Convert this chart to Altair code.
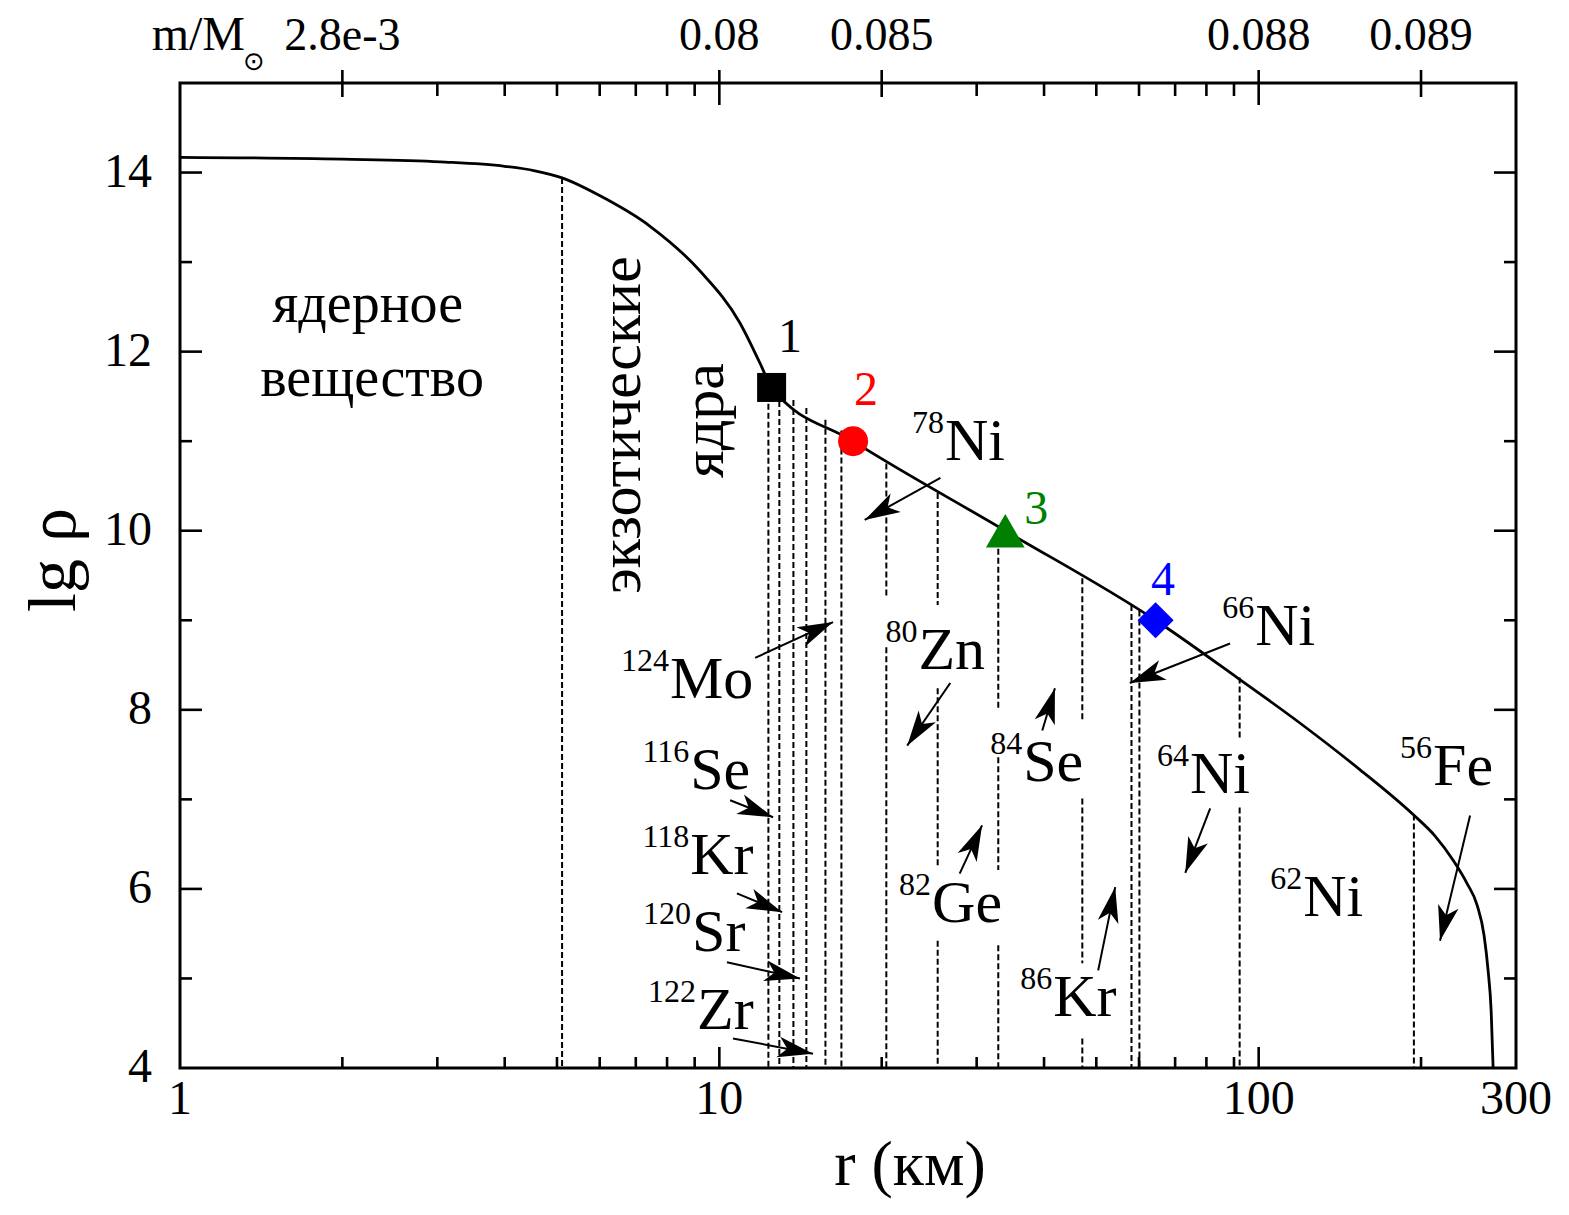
import math
import altair as alt
import pandas as pd

# ---------------- data ----------------
curve_r = [1.0, 2.0, 3.04, 4.0, 4.55, 5.11, 6.01, 7.44, 9.21, 10.92, 11.90, 12.5,
           17.7, 33.9, 64.4, 91.2, 119.4, 154.2, 193.4, 212.4, 229.4, 243.5, 254.1, 261.8,
           266.3, 269.8, 272.1]
curve_lg = [14.17, 14.15, 14.12, 14.07, 14.02, 13.94, 13.74, 13.40, 12.90, 12.32, 11.87, 11.60,
            11.0, 10.0, 9.0, 8.36, 7.85, 7.33, 6.83, 6.59, 6.32, 6.06, 5.82, 5.48,
            5.09, 4.64, 4.0]

marker_r = [12.5, 17.7, 33.9, 64.4]
marker_lg = [11.6, 11.0, 10.0, 9.0]
marker_shape = ["square", "circle", "triangle-up", "diamond"]
marker_color = ["#000000", "#ff0000", "#008000", "#0000ff"]
marker_size = [841, 900, 1500, 1300]
marker_num = ["1", "2", "3", "4"]
num_r = [13.52, 18.7, 38.7, 66.5]
num_lg = [12.0, 11.40, 10.08, 9.28]

boundary_r = [5.11, 12.33, 12.92, 13.72, 14.5, 15.73, 16.84, 20.4, 25.4, 32.9, 47.1, 58.1, 60.1, 92.2, 194.0]
boundary_top = [13.94, 11.62, 11.55, 11.46, 11.37, 11.24, 11.12, 10.75, 10.42, 10.0, 9.47, 9.17, 9.11, 8.36, 6.83]
gap_r = [20.4, 25.4, 25.4, 32.9, 32.9, 47.1, 47.1, 92.2]
gap_hi = [9.26, 9.17, 6.24, 7.99, 6.21, 7.86, 5.17, 7.69]
gap_lo = [8.70, 8.24, 5.42, 7.47, 5.37, 7.01, 4.33, 6.91]

iso_sym = ["Ni", "Mo", "Zn", "Se", "Kr", "Sr", "Zr", "Se", "Ge", "Kr", "Ni", "Ni", "Ni", "Fe"]
iso_mass = ["78", "124", "80", "116", "118", "120", "122", "84", "82", "86", "66", "64", "62", "56"]
iso_r = [26.2, 8.10, 23.4, 8.83, 8.83, 8.90, 9.09, 36.6, 24.8, 41.6, 98.5, 74.6, 120.9, 210.6]
iso_lg = [10.79, 8.13, 8.46, 7.12, 6.17, 5.31, 4.44, 7.21, 5.63, 4.58, 8.72, 7.07, 5.70, 7.16]

arr_r0 = [25.7, 11.65, 26.8, 10.47, 10.78, 10.33, 10.6, 39.7, 27.9, 50.4, 88.5, 81.3, 246.6]
arr_lg0 = [10.59, 8.58, 8.30, 6.99, 5.95, 5.18, 4.33, 7.77, 6.17, 5.09, 8.74, 6.90, 6.82]
arr_r1 = [18.6, 16.25, 22.3, 12.58, 13.07, 14.11, 14.92, 41.9, 30.7, 54.2, 57.7, 73.1, 216.9]
arr_lg1 = [10.12, 8.98, 7.60, 6.80, 5.74, 5.0, 4.16, 8.24, 6.71, 6.02, 8.30, 6.18, 5.42]

region_text = ["ядерное", "вещество"]
region_r = [2.23, 2.27]
region_lg = [12.33, 11.51]
vert_text = ["экзотические", "ядра"]
vert_r = [6.60, 9.41]
vert_lg = [11.18, 11.23]

bottom_major = [10, 100]
bottom_minor = [2, 3, 4, 5, 6, 7, 8, 9, 20, 30, 40, 50, 60, 70, 80, 90, 200]
bottom_labels_v = [1, 10, 100, 300]
bottom_labels_t = ["1", "10", "100", "300"]
top_major_short = [2, 20, 200]
top_major_long = [10, 100]
top_minor = [3, 4, 5, 6, 7, 8, 9, 30, 40, 50, 60, 70, 80, 90]
top_labels_v = [2, 10, 20, 100, 200]
top_labels_t = ["2.8e-3", "0.08", "0.085", "0.088", "0.089"]
y_major = [6, 8, 10, 12, 14]
y_minor = [5, 7, 9, 11, 13]
y_labels = [4, 6, 8, 10, 12, 14]

# ---------------- layout ----------------
W, H = 1336, 985
XMIN, XMAX, YMIN, YMAX = 1, 300, 4, 15
FONT = "Liberation Serif"

xs = alt.Scale(type="log", domain=[XMIN, XMAX], nice=False)
ys = alt.Scale(domain=[YMIN, YMAX], nice=False, zero=False)


def X(f):
    return alt.X(f, type="quantitative", scale=xs, axis=None)


def Y(f):
    return alt.Y(f, type="quantitative", scale=ys, axis=None)


def px(r):
    return (math.log10(r) - math.log10(XMIN)) / (math.log10(XMAX) - math.log10(XMIN)) * W


def py(v):
    return (YMAX - v) / (YMAX - YMIN) * H


# dashed boundary segments (split where labels sit)
seg_rows = []
for r, top in zip(boundary_r, boundary_top):
    gaps = sorted([(h, l) for gr, h, l in zip(gap_r, gap_hi, gap_lo) if gr == r], reverse=True)
    cur = top
    for h, l in gaps:
        seg_rows.append({"r": r, "hi": cur, "lo": h})
        cur = l
    seg_rows.append({"r": r, "hi": cur, "lo": YMIN})
seg_df = pd.DataFrame(seg_rows)

curve_df = pd.DataFrame({"r": curve_r, "lg": curve_lg})

arr_df = pd.DataFrame({"r0": arr_r0, "lg0": arr_lg0, "r1": arr_r1, "lg1": arr_lg1})
arr_df["angle"] = [
    (math.degrees(math.atan2(px(b) - px(a), -(py(d) - py(c)))) + 360) % 360
    for a, c, b, d in zip(arr_r0, arr_lg0, arr_r1, arr_lg1)
]

mk_df = pd.DataFrame({"r": marker_r, "lg": marker_lg, "shape": marker_shape,
                      "color": marker_color, "size": marker_size})
num_df = pd.DataFrame({"r": num_r, "lg": num_lg, "t": marker_num, "color": marker_color})
iso_df = pd.DataFrame({"r": iso_r, "lg": iso_lg, "sym": iso_sym, "mass": iso_mass})
reg_df = pd.DataFrame({"r": region_r, "lg": region_lg, "t": region_text})
vert_df = pd.DataFrame({"r": vert_r, "lg": vert_lg, "t": vert_text})

# ---------------- layers ----------------
segs = alt.Chart(seg_df).mark_rule(color="black", strokeWidth=2.0, strokeDash=[6, 3]).encode(
    x=X("r"), y=Y("hi"), y2=alt.Y2("lo"))

curve = alt.Chart(curve_df).mark_line(color="black", strokeWidth=2.8, interpolate="monotone").encode(
    x=X("r"), y=Y("lg"))

arrows = alt.Chart(arr_df).mark_rule(color="black", strokeWidth=2.0).encode(
    x=X("r0"), y=Y("lg0"), x2=alt.X2("r1"), y2=alt.Y2("lg1"))

head_path = "M0,0 L-0.34,1.15 L0,0.85 L0.34,1.15 Z"
heads = alt.Chart(arr_df).mark_point(shape=head_path, filled=True, color="black", opacity=1,
                                     size=3800, strokeWidth=0).encode(
    x=X("r1"), y=Y("lg1"), angle=alt.Angle("angle:Q", scale=None))

markers = alt.Chart(mk_df).mark_point(filled=True, opacity=1, strokeWidth=0).encode(
    x=X("r"), y=Y("lg"),
    shape=alt.Shape("shape:N", scale=None),
    color=alt.Color("color:N", scale=None),
    size=alt.Size("size:Q", scale=None))

nums = alt.Chart(num_df).mark_text(font=FONT, fontSize=48, align="center", baseline="alphabetic").encode(
    x=X("r"), y=Y("lg"), text="t:N", color=alt.Color("color:N", scale=None))

iso_sym_l = alt.Chart(iso_df).mark_text(font=FONT, fontSize=60, align="left", baseline="alphabetic",
                                        color="black").encode(x=X("r"), y=Y("lg"), text="sym:N")
iso_mass_l = alt.Chart(iso_df).mark_text(font=FONT, fontSize=32, align="right", baseline="alphabetic",
                                         color="black", dy=-27, dx=-1).encode(x=X("r"), y=Y("lg"), text="mass:N")

regions = alt.Chart(reg_df).mark_text(font=FONT, fontSize=56, align="center", baseline="alphabetic",
                                      color="black").encode(x=X("r"), y=Y("lg"), text="t:N")
verts = alt.Chart(vert_df).mark_text(font=FONT, fontSize=60, align="center", baseline="middle",
                                     angle=270, color="black").encode(x=X("r"), y=Y("lg"), text="t:N")

TW = 2.6


def vrule(vals, y0, y1):
    return alt.Chart(pd.DataFrame({"v": vals})).mark_rule(color="black", strokeWidth=TW).encode(
        x=X("v"), y=alt.value(y0), y2=alt.value(y1))


def hrule(vals, x0, x1):
    return alt.Chart(pd.DataFrame({"v": vals})).mark_rule(color="black", strokeWidth=TW).encode(
        y=Y("v"), x=alt.value(x0), x2=alt.value(x1))


ticks = [
    vrule(bottom_major, H, H - 21),
    vrule(bottom_minor, H, H - 11),
    vrule(top_major_short, -13, 14),
    vrule(top_major_long, -13, 22),
    vrule(top_minor, 0, 13),
    hrule(y_major, 0, 22),
    hrule(y_minor, 0, 12),
    hrule(y_major, W, W - 22),
    hrule(y_minor, W, W - 12),
]

bl = alt.Chart(pd.DataFrame({"v": bottom_labels_v, "t": bottom_labels_t})).mark_text(
    font=FONT, fontSize=48, align="center", baseline="alphabetic", color="black").encode(
    x=X("v"), y=alt.value(H + 46), text="t:N")
tl = alt.Chart(pd.DataFrame({"v": top_labels_v, "t": top_labels_t})).mark_text(
    font=FONT, fontSize=46, align="center", baseline="alphabetic", color="black").encode(
    x=X("v"), y=alt.value(-33), text="t:N")
ll = alt.Chart(pd.DataFrame({"v": y_labels})).mark_text(
    font=FONT, fontSize=48, align="right", baseline="middle", color="black").encode(
    y=Y("v"), x=alt.value(-28), text=alt.Text("v:Q", format="d"))

mm = alt.Chart(pd.DataFrame({"t": ["m/M"]})).mark_text(
    font=FONT, fontSize=48, align="right", baseline="alphabetic", color="black").encode(
    x=alt.value(65), y=alt.value(-33), text="t:N")
sun = alt.Chart(pd.DataFrame({"t": ["⊙"]})).mark_text(
    font="DejaVu Sans", fontSize=26, align="center", baseline="middle", color="black").encode(
    x=alt.value(74), y=alt.value(-21), text="t:N")
ytitle = alt.Chart(pd.DataFrame({"t": ["lg ρ"]})).mark_text(
    font=FONT, fontSize=68, align="center", baseline="middle", angle=270, color="black").encode(
    x=alt.value(-125), y=alt.value(477), text="t:N")
xtitle = alt.Chart(pd.DataFrame({"t": ["r (км)"]})).mark_text(
    font=FONT, fontSize=64, align="center", baseline="alphabetic", color="black").encode(
    x=alt.value(730), y=alt.value(1102), text="t:N")

chart = alt.layer(
    segs, curve, arrows, heads, markers, nums, iso_sym_l, iso_mass_l, regions, verts,
    *ticks, bl, tl, ll, mm, sun, ytitle, xtitle
).properties(
    width=W, height=H,
    autosize=alt.AutoSizeParams(type="none"),
    padding={"left": 172, "top": 75, "right": 44, "bottom": 134},
    background="white",
).configure_view(stroke="black", strokeWidth=3)

chart.save("out.html", embed_options={"renderer": "svg", "actions": False})
